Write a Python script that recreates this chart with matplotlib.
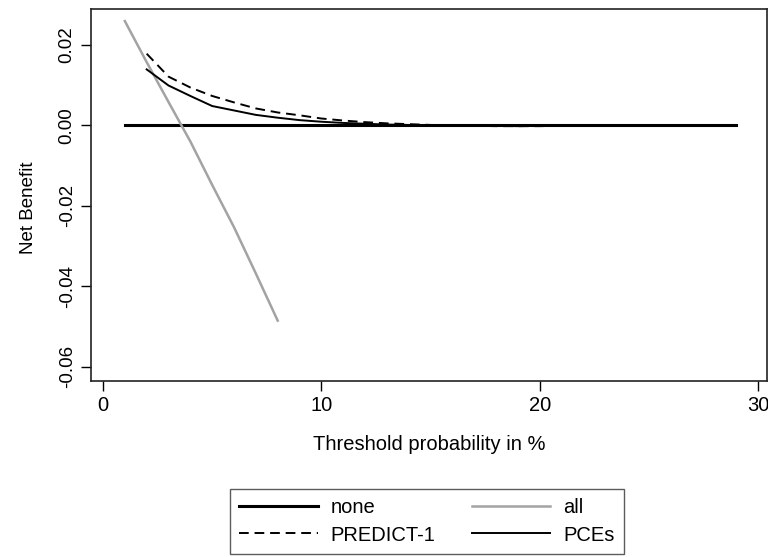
import matplotlib
matplotlib.use("Agg")
import matplotlib.pyplot as plt
import numpy as np


plt.rcParams["font.family"] = ["Liberation Sans", "DejaVu Sans"]

# threshold probability in %
pt_none = list(range(1, 30))
nb_none = [0.0] * len(pt_none)

pt_all = [1, 2, 3, 4, 5, 6, 7, 8]
nb_all = [0.0259, 0.0157, 0.0058, -0.0040, -0.0148, -0.0253, -0.0368, -0.0485]

pt_model = list(range(2, 30))
nb_predict = [0.0178, 0.0121, 0.0094, 0.0073, 0.0057, 0.0042, 0.0032, 0.0025,
              0.0017, 0.0012, 0.0008, 0.0005, 0.0003, 0.0001, 0.0000, -0.0001,
              -0.0002, -0.0002, -0.0002, -0.0001, 0.0000, 0.0000, 0.0000, 0.0000,
              0.0000, 0.0000, 0.0000, 0.0000]
nb_pces = [0.0139, 0.0099, 0.0073, 0.0048, 0.0037, 0.0026, 0.0019, 0.0013,
           0.0009, 0.0006, 0.0004, 0.0002, 0.0001, 0.0000, 0.0000, -0.0001,
           -0.0001, -0.0002, -0.0001, -0.0001, 0.0000, 0.0000, 0.0000, 0.0000,
           0.0000, 0.0000, 0.0000, 0.0000]

x_ticks = [0, 10, 20, 30]
y_ticks = [0.02, 0.00, -0.02, -0.04, -0.06]


def main():
    fig = plt.figure(figsize=(7.68, 5.57), dpi=100)
    ax = fig.add_axes([91 / 768, 1 - 381 / 557, (767 - 91) / 768, (381 - 9) / 557])

    l_none, = ax.plot(pt_none, nb_none, color="black", lw=2.2, label="none")
    l_all, = ax.plot(pt_all, nb_all, color="#a3a3a3", lw=1.8, label="all")
    l_pred, = ax.plot(pt_model, nb_predict, color="black", lw=1.4,
                      dashes=(5, 3), label="PREDICT-1")
    l_pces, = ax.plot(pt_model, nb_pces, color="black", lw=1.4, label="PCEs")

    ax.set_xlim(-0.55, 30.41)
    ax.set_ylim(-0.0635, 0.0289)
    ax.set_xticks(x_ticks)
    ax.set_yticks(y_ticks)
    ax.set_yticklabels([f"{v:.2f}" for v in y_ticks], rotation=90, va="center")
    ax.tick_params(axis="both", direction="out", length=7, width=1, colors="black")
    ax.tick_params(axis="x", pad=4, labelsize=14.5)
    ax.tick_params(axis="y", pad=4, labelsize=13.5)
    for sp in ax.spines.values():
        sp.set_linewidth(1.2)
        sp.set_color("#222222")

    ax.set_xlabel("Threshold probability in %", fontsize=14.5, labelpad=14)
    ax.set_ylabel("Net Benefit", fontsize=13.5, va="center")
    ax.yaxis.set_label_coords(-0.093, 0.465)

    leg = fig.legend(handles=[l_none, l_pred, l_all, l_pces],
                     labels=["none", "PREDICT-1", "all", "PCEs"],
                     ncol=2, loc="upper left",
                     bbox_to_anchor=(230 / 768, 1 - 489 / 557),
                     fontsize=14.5, frameon=True, fancybox=False,
                     edgecolor="#333333", handlelength=3.9,
                     handletextpad=0.65, columnspacing=1.8,
                     labelspacing=0.42, borderpad=0.45, borderaxespad=0)
    leg.get_frame().set_linewidth(1.0)

    fig.savefig("out.png", dpi=100)
    plt.close(fig)


if __name__ == "__main__":
    main()
